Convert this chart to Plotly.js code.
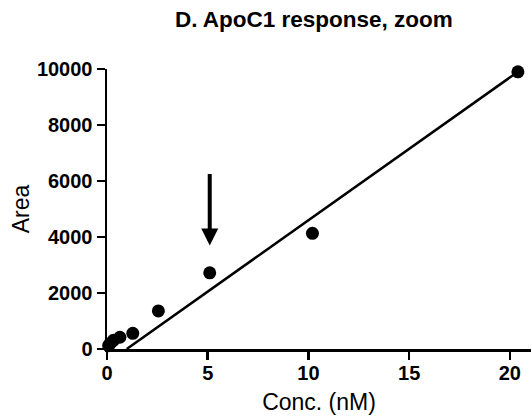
<!DOCTYPE html>
<html>
<head>
<meta charset="utf-8">
<script src="https://cdn.plot.ly/plotly-3.0.1.min.js"></script>
<style>html,body{margin:0;padding:0;background:#fff;}#chart{width:532px;height:418px;}</style>
</head>
<body>
<div id="chart"></div>
<script>
// Data
const concNM = [0.08, 0.16, 0.32, 0.64, 1.28, 2.55, 5.1, 10.2, 20.4];
const area   = [120, 200, 310, 420, 560, 1360, 2720, 4130, 9900];
// Linear fit drawn from its x-intercept to the highest concentration
const fitX = [0.98, 20.4];
const fitY = [0, 9900];
// Arrow marking the 5.1 nM point
const arrowX = 5.1;
const arrowTipY = 3700;
const arrowTailY = 6300;
const xTicks = [0, 5, 10, 15, 20];
const yTicks = [0, 2000, 4000, 6000, 8000, 10000];

const font = "Liberation Sans, Arial, Helvetica, sans-serif";

const traces = [
  {x: fitX, y: fitY, mode: 'lines', line: {color: '#000', width: 2.5}, hoverinfo: 'skip', cliponaxis: false},
  {x: concNM, y: area, mode: 'markers', marker: {color: '#000', size: 13}, cliponaxis: false}
];

const layout = {
  width: 532, height: 418,
  margin: {l: 107, r: 1, t: 69, b: 69},
  paper_bgcolor: '#fff', plot_bgcolor: '#fff',
  showlegend: false,
  title: {text: '<b>D. ApoC1 response, zoom</b>', font: {family: font, size: 22.5, color: '#000'}, x: 0.59, xanchor: 'center', y: 0.955, yanchor: 'middle'},
  xaxis: {
    range: [0, 21.05], tickvals: xTicks, ticktext: xTicks.map(v => '<b>' + v + '</b>'),
    showgrid: false, zeroline: false, showline: true, linecolor: '#000', linewidth: 2.5,
    ticks: 'outside', ticklen: 8, tickwidth: 2.5, tickcolor: '#000', ticklabelstandoff: -4,
    tickfont: {family: font, size: 20, color: '#000'},
    title: {text: 'Conc. (nM)', font: {family: font, size: 23, color: '#000'}, standoff: 12}
  },
  yaxis: {
    range: [0, 10000], tickvals: yTicks, ticktext: yTicks.map(v => '<b>' + v + '</b>'),
    showgrid: false, zeroline: false, showline: true, linecolor: '#000', linewidth: 2.5,
    ticks: 'outside', ticklen: 8, tickwidth: 2.5, tickcolor: '#000',
    tickfont: {family: font, size: 20, color: '#000'},
    title: {text: 'Area', font: {family: font, size: 23, color: '#000'}, standoff: 1}
  },
  annotations: [{
    x: arrowX, y: arrowTipY, ax: arrowX, ay: arrowTailY, xref: 'x', yref: 'y', axref: 'x', ayref: 'y',
    showarrow: true, arrowhead: 2, arrowwidth: 4, arrowsize: 0.85, arrowcolor: '#000', text: ''
  }]
};

Plotly.newPlot('chart', traces, layout, {displayModeBar: false, staticPlot: true});
</script>
</body>
</html>
